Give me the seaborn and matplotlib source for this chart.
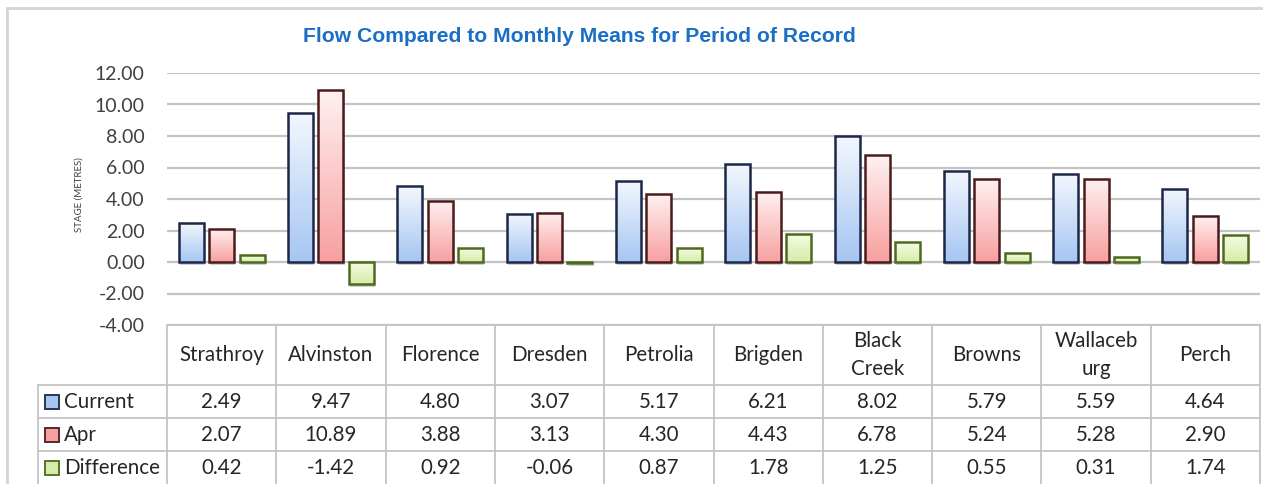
import numpy as np
import pandas as pd
import seaborn as sns
import matplotlib.pyplot as plt
from matplotlib.colors import LinearSegmentedColormap
from matplotlib.patches import Rectangle
from matplotlib.lines import Line2D
from matplotlib.transforms import blended_transform_factory

stations = ["Strathroy", "Alvinston", "Florence", "Dresden", "Petrolia",
            "Brigden", "Black Creek", "Browns", "Wallaceburg", "Perch"]
header_labels = ["Strathroy", "Alvinston", "Florence", "Dresden", "Petrolia",
                 "Brigden", "Black\nCreek", "Browns", "Wallaceb\nurg", "Perch"]
series = ["Current", "Apr", "Difference"]
current = [2.49, 9.47, 4.80, 3.07, 5.17, 6.21, 8.02, 5.79, 5.59, 4.64]
apr = [2.07, 10.89, 3.88, 3.13, 4.30, 4.43, 6.78, 5.24, 5.28, 2.90]
difference = [0.42, -1.42, 0.92, -0.06, 0.87, 1.78, 1.25, 0.55, 0.31, 1.74]
yticks = [-4, -2, 0, 2, 4, 6, 8, 10, 12]

# (top colour, bottom colour, edge colour) per series
styles = {
    "Current": ("#f3f7fe", "#a6c6f2", "#1c2848"),
    "Apr": ("#fff0f0", "#f8a0a0", "#4a1c1c"),
    "Difference": ("#f7fbe4", "#d6ecaa", "#4d6a1e"),
}

df = pd.DataFrame({
    "station": stations * 3,
    "series": np.repeat(series, len(stations)),
    "value": current + apr + difference,
})

W, H = 1263, 484
sns.set_theme(style="white")
plt.rcParams["font.family"] = ["Lato", "DejaVu Sans"]
plt.rcParams["axes.unicode_minus"] = False

fig = plt.figure(figsize=(W / 100, H / 100), dpi=100)
ax = fig.add_axes([167 / W, 1 - 325 / H, (1260 - 167) / W, (325 - 73) / H])

sns.barplot(data=df, x="station", y="value", hue="series", order=stations,
            hue_order=series, palette=[styles[s][1] for s in series],
            width=0.835, gap=0.18, legend=False, ax=ax, zorder=3)

grad = np.linspace(0, 1, 64).reshape(-1, 1)
for name, cont in zip(series, ax.containers):
    top, bottom, edge = styles[name]
    cmap = LinearSegmentedColormap.from_list(name, [bottom, top])
    for bar in cont:
        x0, y0 = bar.get_xy()
        w, h = bar.get_width(), bar.get_height()
        lo, hi = min(y0, y0 + h), max(y0, y0 + h)
        # soft shadow under each bar
        ax.add_patch(Rectangle((x0 + 0.01, lo - 0.18), w, hi - lo,
                               facecolor="#9a9a9a", alpha=0.45, lw=0, zorder=2))
        im = ax.imshow(grad, cmap=cmap, extent=[x0, x0 + w, lo, hi], origin="lower",
                       aspect="auto", interpolation="bicubic", zorder=2.5)
        im.set_clip_path(bar)
        bar.set_facecolor("none")
        bar.set_edgecolor(edge)
        bar.set_linewidth(1.8)
        bar.set_zorder(3)

ax.set_xlim(-0.5, len(stations) - 0.5)
ax.set_ylim(-4, 12)
ax.set_yticks(yticks)
ax.set_yticklabels([f"{v:.2f}" for v in yticks])
ax.tick_params(axis="y", length=0, pad=16, labelsize=14, labelcolor="#404040")
ax.tick_params(axis="x", length=0, labelbottom=False)
ax.set_xlabel("")
ax.set_ylabel("")
for s in ax.spines.values():
    s.set_visible(False)
ax.yaxis.grid(True, color="#c4c4c4", lw=1.6, zorder=0)
ax.set_axisbelow(True)

fig.text(79 / W, 1 - 195 / H, "STAGE (METRES)", rotation=90, fontsize=7,
         ha="center", va="center", color="#404040")
fig.text(579 / W, 1 - 37 / H, "Flow Compared to Monthly Means for Period of Record",
         fontsize=15.2, fontweight="bold", color="#1a6ec3", family="Liberation Sans",
         ha="center", va="center")

# data table under the chart
tr = blended_transform_factory(ax.transData, fig.transFigure)
line_kw = dict(color="#c4c4c4", lw=1.3)


def fy(y):
    return 1 - y / H


def fx(x):
    return x / W


n = len(stations)
fig.add_artist(Line2D([-0.5, n - 0.5], [fy(325), fy(325)], transform=tr, **line_kw))
for yy in [385, 418, 451]:
    fig.add_artist(Line2D([fx(38), fx(1260)], [fy(yy), fy(yy)], transform=fig.transFigure, **line_kw))
fig.add_artist(Line2D([fx(38), fx(38)], [fy(385), 0], transform=fig.transFigure, **line_kw))
for i in range(n + 1):
    fig.add_artist(Line2D([i - 0.5, i - 0.5], [fy(325), 0], transform=tr, **line_kw))

text_kw = dict(fontsize=14.8, color="#262626", ha="center", va="center")
for i, lab in enumerate(header_labels):
    fig.text(i, fy(355), lab, transform=tr, linespacing=1.55, **text_kw)

row_y = [402, 435, 468]
for name, vals, yy in zip(series, [current, apr, difference], row_y):
    top, bottom, edge = styles[name]
    fig.add_artist(Rectangle((fx(45), fy(yy + 7)), 14 / W, 14 / H, transform=fig.transFigure,
                             facecolor=bottom, edgecolor=edge, lw=1.3))
    fig.text(fx(64), fy(yy), name, fontsize=14.8, color="#262626", ha="left", va="center")
    for i, v in enumerate(vals):
        fig.text(i, fy(yy), f"{v:.2f}", transform=tr, **text_kw)

# outer chart frame
fig.add_artist(Rectangle((fx(7), -0.1), 1.1, fy(8) + 0.1, transform=fig.transFigure,
                         facecolor="none", edgecolor="#d4d4d4", lw=2))

plt.savefig("out.png", dpi=100)
